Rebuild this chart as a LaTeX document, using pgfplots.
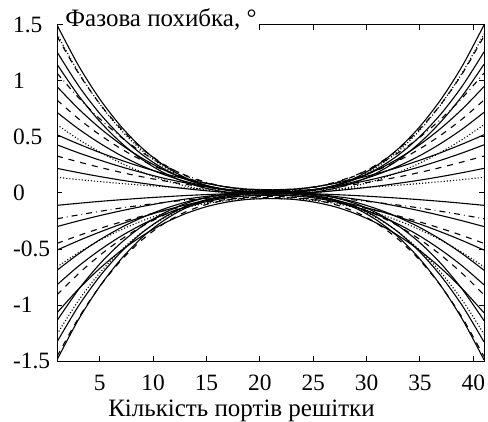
\documentclass[border=0pt]{standalone}
\usepackage{fontspec}
\setmainfont{LiberationSerif}[Extension=.ttf, UprightFont=*-Regular, BoldFont=*-Bold]
\usepackage{pgfplots}
\pgfplotsset{compat=1.18}

\begin{document}
\begin{tikzpicture}
\begin{axis}[
  name=ax,
  scale only axis,
  width=213.5pt, height=168pt,
  xmin=1, xmax=41, ymin=-1.5, ymax=1.5,
  xtick={5,10,...,40},
  ytick={-1.5,-1,...,1.5},
  yticklabels={-1.5,-1,-0.5,0,0.5,1,1.5},
  tick align=inside,
  major tick length=2.5pt,
  tick style={black, line width=0.5pt},
  axis line style={line width=0.5pt},
  /pgf/number format/assume math mode=true,
  tick label style={font=\fontsize{11.7}{13}\selectfont},
  xticklabel style={anchor=base, yshift=-14.5pt},
  yticklabel style={anchor=west, xshift=-25.5pt},
  cycle list={{black}},
  every axis plot post/.append style={black, line width=0.55pt, smooth, mark=none},
]
% upper family
\addplot coordinates {(1,1.5) (3,1.14) (5,0.84) (7,0.594) (9,0.398) (11,0.248) (13,0.138) (15,0.066) (17,0.023) (19,0.005) (21,0) (23,0.005) (25,0.023) (27,0.066) (29,0.138) (31,0.248) (33,0.398) (35,0.594) (37,0.84) (39,1.14) (41,1.5)};
\addplot+[densely dotted] coordinates {(1,1.42) (3,1.079) (5,0.795) (7,0.562) (9,0.376) (11,0.234) (13,0.131) (15,0.062) (17,0.021) (19,0.004) (21,0) (23,0.004) (25,0.021) (27,0.062) (29,0.131) (31,0.234) (33,0.376) (35,0.562) (37,0.795) (39,1.079) (41,1.42)};
\addplot+[dashed] coordinates {(1,1.40) (3,1.071) (5,0.797) (7,0.573) (9,0.393) (11,0.256) (13,0.156) (15,0.090) (17,0.051) (19,0.034) (21,0.03) (23,0.034) (25,0.051) (27,0.090) (29,0.156) (31,0.256) (33,0.393) (35,0.573) (37,0.797) (39,1.071) (41,1.40)};
\addplot coordinates {(1,1.26) (3,0.960) (5,0.710) (7,0.505) (9,0.341) (11,0.216) (13,0.125) (15,0.065) (17,0.029) (19,0.014) (21,0.01) (23,0.014) (25,0.029) (27,0.065) (29,0.125) (31,0.216) (33,0.341) (35,0.505) (37,0.710) (39,0.960) (41,1.26)};
\addplot coordinates {(1,1.15) (3,0.872) (5,0.640) (7,0.449) (9,0.297) (11,0.181) (13,0.097) (15,0.041) (17,0.007) (19,-0.007) (21,-0.01) (23,-0.007) (25,0.007) (27,0.041) (29,0.097) (31,0.181) (33,0.297) (35,0.449) (37,0.640) (39,0.872) (41,1.15)};
\addplot+[dashdotted] coordinates {(1,1.07) (3,0.853) (5,0.663) (7,0.499) (9,0.361) (11,0.249) (13,0.160) (15,0.095) (17,0.050) (19,0.026) (21,0.02) (23,0.026) (25,0.050) (27,0.095) (29,0.160) (31,0.249) (33,0.361) (35,0.499) (37,0.663) (39,0.853) (41,1.07)};
\addplot coordinates {(1,0.95) (3,0.753) (5,0.581) (7,0.433) (9,0.309) (11,0.207) (13,0.126) (15,0.067) (17,0.028) (19,0.006) (21,0) (23,0.006) (25,0.028) (27,0.067) (29,0.126) (31,0.207) (33,0.309) (35,0.433) (37,0.581) (39,0.753) (41,0.95)};
\addplot+[dashed] coordinates {(1,0.83) (3,0.664) (5,0.520) (7,0.395) (9,0.290) (11,0.204) (13,0.136) (15,0.087) (17,0.053) (19,0.035) (21,0.03) (23,0.035) (25,0.053) (27,0.087) (29,0.136) (31,0.204) (33,0.290) (35,0.395) (37,0.520) (39,0.664) (41,0.83)};
\addplot coordinates {(1,0.72) (3,0.573) (5,0.445) (7,0.334) (9,0.241) (11,0.165) (13,0.104) (15,0.060) (17,0.031) (19,0.014) (21,0.01) (23,0.014) (25,0.031) (27,0.060) (29,0.104) (31,0.165) (33,0.241) (35,0.334) (37,0.445) (39,0.573) (41,0.72)};
\addplot+[densely dotted] coordinates {(1,0.61) (3,0.480) (5,0.366) (7,0.267) (9,0.185) (11,0.117) (13,0.064) (15,0.025) (17,-0.002) (19,-0.016) (21,-0.02) (23,-0.016) (25,-0.002) (27,0.025) (29,0.064) (31,0.117) (33,0.185) (35,0.267) (37,0.366) (39,0.480) (41,0.61)};
\addplot coordinates {(1,0.52) (3,0.438) (5,0.362) (7,0.293) (9,0.230) (11,0.174) (13,0.126) (15,0.085) (17,0.053) (19,0.030) (21,0.02) (23,0.030) (25,0.053) (27,0.085) (29,0.126) (31,0.174) (33,0.230) (35,0.293) (37,0.362) (39,0.438) (41,0.52)};
\addplot coordinates {(1,0.43) (3,0.359) (5,0.294) (7,0.234) (9,0.181) (11,0.132) (13,0.091) (15,0.055) (17,0.028) (19,0.009) (21,0) (23,0.009) (25,0.028) (27,0.055) (29,0.091) (31,0.132) (33,0.181) (35,0.234) (37,0.294) (39,0.359) (41,0.43)};
\addplot+[dashed] coordinates {(1,0.33) (3,0.278) (5,0.229) (7,0.184) (9,0.144) (11,0.109) (13,0.078) (15,0.051) (17,0.031) (19,0.016) (21,0.01) (23,0.016) (25,0.031) (27,0.051) (29,0.078) (31,0.109) (33,0.144) (35,0.184) (37,0.229) (39,0.278) (41,0.33)};
\addplot coordinates {(1,0.22) (3,0.182) (5,0.147) (7,0.115) (9,0.087) (11,0.061) (13,0.039) (15,0.020) (17,0.005) (19,-0.005) (21,-0.01) (23,-0.005) (25,0.005) (27,0.020) (29,0.039) (31,0.061) (33,0.087) (35,0.115) (37,0.147) (39,0.182) (41,0.22)};
\addplot+[densely dotted] coordinates {(1,0.14) (3,0.120) (5,0.102) (7,0.085) (9,0.070) (11,0.057) (13,0.045) (15,0.035) (17,0.028) (19,0.022) (21,0.02) (23,0.022) (25,0.028) (27,0.035) (29,0.045) (31,0.057) (33,0.070) (35,0.085) (37,0.102) (39,0.120) (41,0.14)};
% lower family
\addplot coordinates {(1,-0.11) (3,-0.092) (5,-0.075) (7,-0.060) (9,-0.046) (11,-0.034) (13,-0.023) (15,-0.014) (17,-0.007) (19,-0.002) (21,0) (23,-0.002) (25,-0.007) (27,-0.014) (29,-0.023) (31,-0.034) (33,-0.046) (35,-0.060) (37,-0.075) (39,-0.092) (41,-0.11)};
\addplot+[dashdotted] coordinates {(1,-0.23) (3,-0.196) (5,-0.164) (7,-0.134) (9,-0.108) (11,-0.085) (13,-0.064) (15,-0.047) (17,-0.034) (19,-0.024) (21,-0.02) (23,-0.024) (25,-0.034) (27,-0.047) (29,-0.064) (31,-0.085) (33,-0.108) (35,-0.134) (37,-0.164) (39,-0.196) (41,-0.23)};
\addplot coordinates {(1,-0.30) (3,-0.249) (5,-0.202) (7,-0.159) (9,-0.120) (11,-0.085) (13,-0.055) (15,-0.030) (17,-0.010) (19,0.004) (21,0.01) (23,0.004) (25,-0.010) (27,-0.030) (29,-0.055) (31,-0.085) (33,-0.120) (35,-0.159) (37,-0.202) (39,-0.249) (41,-0.30)};
\addplot+[dashed] coordinates {(1,-0.45) (3,-0.381) (5,-0.317) (7,-0.259) (9,-0.206) (11,-0.159) (13,-0.119) (15,-0.084) (17,-0.057) (19,-0.038) (21,-0.03) (23,-0.038) (25,-0.057) (27,-0.084) (29,-0.119) (31,-0.159) (33,-0.206) (35,-0.259) (37,-0.317) (39,-0.381) (41,-0.45)};
\addplot coordinates {(1,-0.51) (3,-0.426) (5,-0.349) (7,-0.278) (9,-0.214) (11,-0.157) (13,-0.108) (15,-0.066) (17,-0.033) (19,-0.010) (21,0) (23,-0.010) (25,-0.033) (27,-0.066) (29,-0.108) (31,-0.157) (33,-0.214) (35,-0.278) (37,-0.349) (39,-0.426) (41,-0.51)};
\addplot+[densely dotted] coordinates {(1,-0.66) (3,-0.534) (5,-0.423) (7,-0.328) (9,-0.248) (11,-0.183) (13,-0.131) (15,-0.093) (17,-0.068) (19,-0.054) (21,-0.05) (23,-0.054) (25,-0.068) (27,-0.093) (29,-0.131) (31,-0.183) (33,-0.248) (35,-0.328) (37,-0.423) (39,-0.534) (41,-0.66)};
\addplot coordinates {(1,-0.69) (3,-0.545) (5,-0.418) (7,-0.309) (9,-0.218) (11,-0.143) (13,-0.083) (15,-0.040) (17,-0.010) (19,0.006) (21,0.01) (23,0.006) (25,-0.010) (27,-0.040) (29,-0.083) (31,-0.143) (33,-0.218) (35,-0.309) (37,-0.418) (39,-0.545) (41,-0.69)};
\addplot coordinates {(1,-0.82) (3,-0.654) (5,-0.510) (7,-0.385) (9,-0.280) (11,-0.194) (13,-0.126) (15,-0.077) (17,-0.043) (19,-0.025) (21,-0.02) (23,-0.025) (25,-0.043) (27,-0.077) (29,-0.126) (31,-0.194) (33,-0.280) (35,-0.385) (37,-0.510) (39,-0.654) (41,-0.82)};
\addplot+[dashed] coordinates {(1,-0.91) (3,-0.722) (5,-0.557) (7,-0.415) (9,-0.296) (11,-0.198) (13,-0.121) (15,-0.065) (17,-0.026) (19,-0.005) (21,0) (23,-0.005) (25,-0.026) (27,-0.065) (29,-0.121) (31,-0.198) (33,-0.296) (35,-0.415) (37,-0.557) (39,-0.722) (41,-0.91)};
\addplot coordinates {(1,-1.07) (3,-0.859) (5,-0.674) (7,-0.515) (9,-0.382) (11,-0.272) (13,-0.186) (15,-0.122) (17,-0.080) (19,-0.056) (21,-0.05) (23,-0.056) (25,-0.080) (27,-0.122) (29,-0.186) (31,-0.272) (33,-0.382) (35,-0.515) (37,-0.674) (39,-0.859) (41,-1.07)};
\addplot coordinates {(1,-1.14) (3,-0.864) (5,-0.634) (7,-0.445) (9,-0.295) (11,-0.180) (13,-0.096) (15,-0.041) (17,-0.007) (19,0.007) (21,0.01) (23,0.007) (25,-0.007) (27,-0.041) (29,-0.096) (31,-0.180) (33,-0.295) (35,-0.445) (37,-0.634) (39,-0.864) (41,-1.14)};
\addplot+[densely dotted] coordinates {(1,-1.26) (3,-0.962) (5,-0.714) (7,-0.511) (9,-0.349) (11,-0.225) (13,-0.134) (15,-0.075) (17,-0.039) (19,-0.024) (21,-0.02) (23,-0.024) (25,-0.039) (27,-0.075) (29,-0.134) (31,-0.225) (33,-0.349) (35,-0.511) (37,-0.714) (39,-0.962) (41,-1.26)};
\addplot coordinates {(1,-1.33) (3,-1.011) (5,-0.745) (7,-0.527) (9,-0.352) (11,-0.219) (13,-0.122) (15,-0.059) (17,-0.020) (19,-0.004) (21,0) (23,-0.004) (25,-0.020) (27,-0.059) (29,-0.122) (31,-0.219) (33,-0.352) (35,-0.527) (37,-0.745) (39,-1.011) (41,-1.33)};
\addplot+[dashed] coordinates {(1,-1.46) (3,-1.119) (5,-0.835) (7,-0.602) (9,-0.416) (11,-0.274) (13,-0.171) (15,-0.102) (17,-0.061) (19,-0.044) (21,-0.04) (23,-0.044) (25,-0.061) (27,-0.102) (29,-0.171) (31,-0.274) (33,-0.416) (35,-0.602) (37,-0.835) (39,-1.119) (41,-1.46)};
\addplot coordinates {(1,-1.49) (3,-1.132) (5,-0.834) (7,-0.590) (9,-0.395) (11,-0.246) (13,-0.137) (15,-0.066) (17,-0.022) (19,-0.004) (21,0) (23,-0.004) (25,-0.022) (27,-0.066) (29,-0.137) (31,-0.246) (33,-0.395) (35,-0.590) (37,-0.834) (39,-1.132) (41,-1.49)};
\end{axis}
% quantity name at the top left, over the frame
\node[anchor=base west, fill=white, inner xsep=1pt, inner ysep=2pt,
      font=\fontsize{12.5}{15}\selectfont]
  at ([xshift=3pt, yshift=-1pt]ax.north west) {Фазова похибка, °};
% x axis title
\node[anchor=base, font=\fontsize{12.5}{15}\selectfont]
  at ([xshift=92.25pt, yshift=-27.5pt]ax.south west) {Кількість портів решітки};
\pgfresetboundingbox
\path[use as bounding box] ([xshift=-28.5pt, yshift=-30pt]ax.south west)
  rectangle ([xshift=2pt, yshift=12.5pt]ax.north east);
\end{tikzpicture}
\end{document}
